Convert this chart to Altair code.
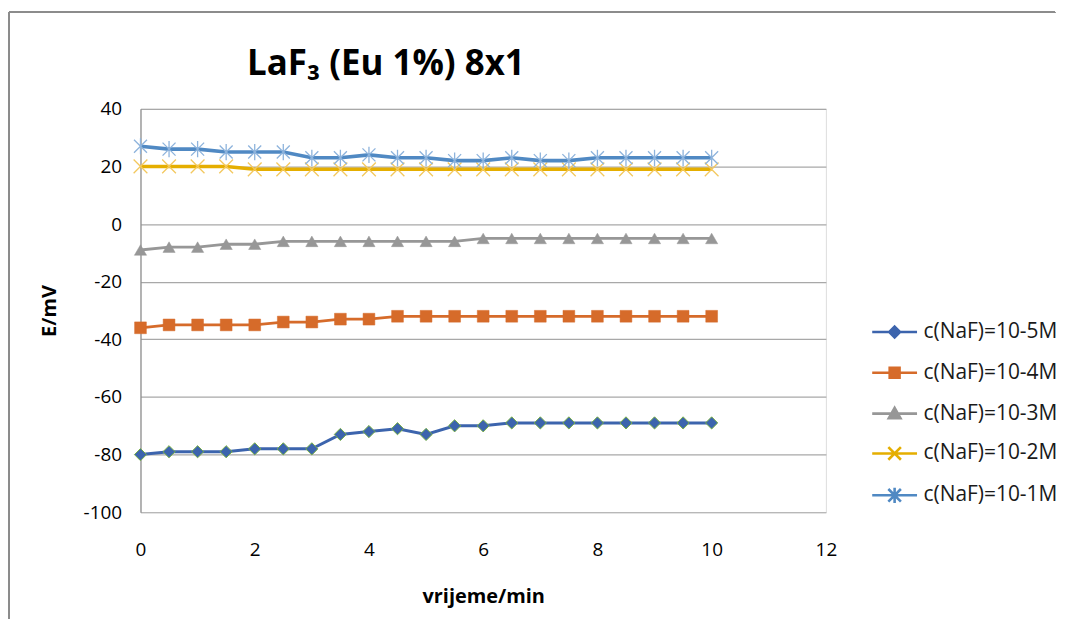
import altair as alt
import pandas as pd

# ---- data ----
time_min = [0, 0.5, 1, 1.5, 2, 2.5, 3, 3.5, 4, 4.5, 5, 5.5, 6, 6.5, 7, 7.5, 8, 8.5, 9, 9.5, 10]
series_names = ["c(NaF)=10-5M", "c(NaF)=10-4M", "c(NaF)=10-3M", "c(NaF)=10-2M", "c(NaF)=10-1M"]
e_1e5 = [-80, -79, -79, -79, -78, -78, -78, -73, -72, -71, -73, -70, -70, -69, -69, -69, -69, -69, -69, -69, -69]
e_1e4 = [-36, -35, -35, -35, -35, -34, -34, -33, -33, -32, -32, -32, -32, -32, -32, -32, -32, -32, -32, -32, -32]
e_1e3 = [-9, -8, -8, -7, -7, -6, -6, -6, -6, -6, -6, -6, -5, -5, -5, -5, -5, -5, -5, -5, -5]
e_1e2 = [20, 20, 20, 20, 19, 19, 19, 19, 19, 19, 19, 19, 19, 19, 19, 19, 19, 19, 19, 19, 19]
e_1e1 = [27, 26, 26, 25, 25, 25, 23, 23, 24, 23, 23, 22, 22, 23, 22, 22, 23, 23, 23, 23, 23]
x_ticks = [0, 2, 4, 6, 8, 10, 12]
y_ticks = [-100, -80, -60, -40, -20, 0, 20, 40]
chart_title = ["LaF₃ (Eu 1%) 8x1"]

all_values = [e_1e5, e_1e4, e_1e3, e_1e2, e_1e1]
rows = []
for name, vals in zip(series_names, all_values):
    for t, v in zip(time_min, vals):
        rows.append({"series": name, "t": t, "e": v})
df = pd.DataFrame(rows)

# ---- styles ----
FONT = "Open Sans"
line_colors = ["#3C64AD", "#D66B2A", "#979797", "#E5AE00", "#5089C3"]
line_widths = [3, 2.8, 2.8, 3.6, 3.6]
X_PATH = "M-1,-1L1,1M-1,1L1,-1"
AST_PATH = "M-1,-1L1,1M-1,1L1,-1M0,-1.25L0,1.25"
marker_specs = [
    dict(shape="diamond", filled=True, fill="#3C64AD", stroke="#78B044", strokeWidth=1, size=150),
    dict(shape="square", filled=True, fill="#D66B2A", stroke="#D66B2A", strokeWidth=0.5, size=140),
    dict(shape="triangle-up", filled=True, fill="#979797", stroke="#979797", strokeWidth=0.5, size=150),
    dict(shape=X_PATH, filled=False, stroke="#F3C85E", strokeWidth=1.3, size=190),
    dict(shape=AST_PATH, filled=False, stroke="#8DB3DC", strokeWidth=1.3, size=170),
]
legend_paths = [
    "M-1,0L1,0M0,-0.24L0.24,0L0,0.24L-0.24,0Z",
    "M-1,0L1,0M-0.22,-0.22L0.22,-0.22L0.22,0.22L-0.22,0.22Z",
    "M-1,0L1,0M0,-0.26L0.26,0.2L-0.26,0.2Z",
    "M-1,0L1,0M-0.28,-0.28L0.28,0.28M-0.28,0.28L0.28,-0.28",
    "M-1,0L1,0M-0.28,-0.28L0.28,0.28M-0.28,0.28L0.28,-0.28M0,-0.34L0,0.34",
]

x_scale = alt.Scale(domain=[0, 12], nice=False, zero=False)
y_scale = alt.Scale(domain=[-100, 40], nice=False, zero=False)

x_axis = alt.Axis(values=x_ticks, grid=False, domain=False, ticks=False, labelPadding=28,
                  labelFlush=False, labelExpr="datum.value + ''",
                  labelFontSize=19, labelFont=FONT, labelColor="#000000",
                  title="vrijeme/min", titleFontSize=20, titleFont=FONT, titleFontWeight="bold",
                  titleColor="#000000", titlePadding=28)
y_axis = alt.Axis(values=y_ticks, grid=True, gridColor="#A8A8A8", gridWidth=1.2,
                  domain=True, domainColor="#8C8C8C", domainWidth=1.2, ticks=False,
                  labelFlush=False, labelExpr="datum.value + ''",
                  labelPadding=19, labelFontSize=19, labelFont=FONT, labelColor="#000000",
                  title="E/mV", titleFontSize=20, titleFont=FONT, titleFontWeight="bold",
                  titleColor="#000000", titlePadding=24)

X = alt.X("t:Q", scale=x_scale, axis=x_axis)
Y = alt.Y("e:Q", scale=y_scale, axis=y_axis)

base = alt.Chart(df)
layers = []
for i, name in enumerate(series_names):
    sub = base.transform_filter(alt.datum.series == name)
    layers.append(
        sub.mark_line(color=line_colors[i], strokeWidth=line_widths[i]).encode(x=X, y=Y)
    )
    layers.append(
        sub.mark_point(opacity=1, **marker_specs[i]).encode(x=X, y=Y)
    )

legend = alt.Legend(orient="none", legendX=733, legendY=200, symbolSize=2025,
                    symbolStrokeWidth=2.6, labelFontSize=21, labelFont=FONT,
                    labelColor="#1A1A1A", labelOffset=5, rowPadding=6, padding=0)
layers.append(
    base.transform_filter("false").mark_point(opacity=1, filled=True).encode(
        x=X, y=Y,
        fill=alt.Fill("series:N", scale=alt.Scale(domain=series_names, range=line_colors),
                      legend=legend, title=None),
        stroke=alt.Stroke("series:N", scale=alt.Scale(domain=series_names, range=line_colors),
                          legend=legend, title=None),
        shape=alt.Shape("series:N", scale=alt.Scale(domain=series_names, range=legend_paths),
                        legend=legend, title=None),
    )
)

# chart title (as text, placed like the reference's chart title)
title_df = pd.DataFrame({"label": chart_title})
layers.append(
    alt.Chart(title_df).mark_text(align="left", baseline="alphabetic", fontSize=35,
                                  font=FONT, fontWeight="bold", color="#000000").encode(
        text="label:N", x=alt.value(107), y=alt.value(-34)
    )
)

# chart-area frame (top and left edges)
layers.append(
    base.mark_rule(color="#8C8C8C", strokeWidth=1.5).encode(
        x=alt.value(-132), x2=alt.value(918), y=alt.value(-97), y2=alt.value(-97)
    )
)
layers.append(
    base.mark_rule(color="#8C8C8C", strokeWidth=1.5).encode(
        x=alt.value(-132), x2=alt.value(-132), y=alt.value(-97), y2=alt.value(512)
    )
)

chart = alt.layer(*layers).properties(
    width=688, height=405,
    padding={"left": 0, "top": 2, "right": 0, "bottom": 0},
).configure_view(stroke="transparent").configure(background="white")

chart.save("out.html", embed_options={"renderer": "svg", "actions": False})
